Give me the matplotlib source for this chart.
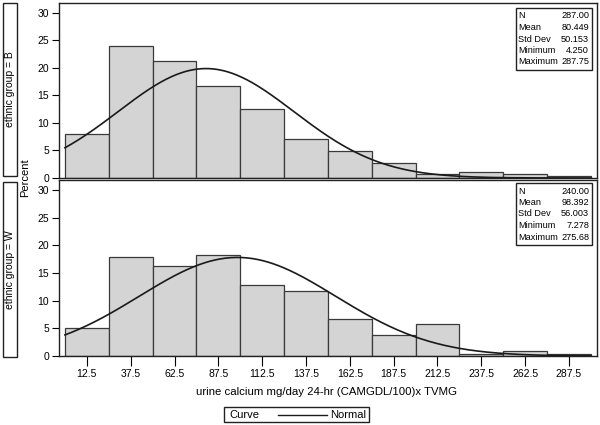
import matplotlib
matplotlib.use("Agg")
import matplotlib.pyplot as plt
import numpy as np
from matplotlib.patches import Rectangle
from matplotlib.lines import Line2D

plt.rcParams["font.family"] = ["Liberation Sans", "DejaVu Sans"]

# bin midpoints (width 25)
bin_mids = [12.5, 37.5, 62.5, 87.5, 112.5, 137.5, 162.5, 187.5, 212.5, 237.5, 262.5, 287.5]
tick_labels = ["12.5", "37.5", "62.5", "87.5", "112.5", "137.5", "162.5", "187.5",
               "212.5", "237.5", "262.5", "287.5"]

# percent per bin
pct_b = [8.0, 24.0, 21.3, 16.7, 12.5, 7.0, 4.9, 2.8, 0.7, 1.05, 0.7, 0.35]
pct_w = [5.0, 17.9, 16.3, 18.3, 12.9, 11.7, 6.7, 3.75, 5.8, 0.4, 0.85, 0.4]

groups = ["B", "W"]
stat_names = ["N", "Mean", "Std Dev", "Minimum", "Maximum"]
stats_b = ["287.00", "80.449", "50.153", "4.250", "287.75"]
stats_w = ["240.00", "98.392", "56.003", "7.278", "275.68"]

BAR_W = 25.0
BAR_FACE = "#d4d4d4"
BAR_EDGE = "#3a3a3a"
W, H = 600.0, 425.0

fig = plt.figure(figsize=(6, 4.25), dpi=100)


def fig_box(x0, y0, x1, y1):
    # pixel box (top-left origin) -> figure fraction rect
    return [x0 / W, 1 - y1 / H, (x1 - x0) / W, (y1 - y0) / H]


ax_top = fig.add_axes(fig_box(59, 3, 597, 178))
ax_bot = fig.add_axes(fig_box(59, 180, 597, 356))

# (axes, percents, stats, stats-box top in pixels)
panels = [
    (ax_top, pct_b, stats_b, 8),
    (ax_bot, pct_w, stats_w, 183),
]

xs = np.linspace(0, 300, 400)
for ax, pct, stats, box_top in panels:
    ax.bar(bin_mids, pct, width=BAR_W, color=BAR_FACE, edgecolor=BAR_EDGE, linewidth=0.9)
    mean = float(stats[1])
    sd = float(stats[2])
    curve = 100 * BAR_W / (sd * np.sqrt(2 * np.pi)) * np.exp(-0.5 * ((xs - mean) / sd) ** 2)
    ax.plot(xs, curve, color="#1a1a1a", linewidth=1.2)
    ax.set_xlim(-3.4, 303.5)
    ax.set_ylim(0, 31.8)
    ax.set_yticks([0, 5, 10, 15, 20, 25, 30])
    ax.tick_params(axis="y", direction="out", length=5, labelsize=7.5, pad=2)
    for sp in ax.spines.values():
        sp.set_linewidth(1.0)
        sp.set_color("#222222")

    # stats inset box, drawn in pixel units of the figure
    r = fig_box(516, box_top, 592, box_top + 62)
    fig.patches.append(Rectangle((r[0], r[1]), r[2], r[3], transform=fig.transFigure,
                                 facecolor="white", edgecolor="#222222", linewidth=1.0,
                                 zorder=5))
    for i, (name, val) in enumerate(zip(stat_names, stats)):
        yy = 1 - (box_top + 8 + i * 11.5) / H
        fig.text(518.5 / W, yy, name, fontsize=6.6, va="center", ha="left", zorder=6)
        fig.text(589 / W, yy, val, fontsize=6.6, va="center", ha="right", zorder=6)

ax_top.set_xticks([])
ax_bot.set_xticks(bin_mids)
ax_bot.set_xticklabels(tick_labels)
ax_bot.tick_params(axis="x", direction="out", length=7, labelsize=7.5, pad=2.5)

fig.text(327 / W, 1 - 392 / H, "urine calcium mg/day 24-hr (CAMGDL/100)x TVMG",
         fontsize=8.2, ha="center", va="center")

# group strips on the left
strips = [(3, 3, 17, 176, "ethnic group = B"), (3, 182, 17, 357, "ethnic group = W")]
for x0, y0, x1, y1, label in strips:
    r = fig_box(x0, y0, x1, y1)
    fig.patches.append(Rectangle((r[0], r[1]), r[2], r[3], transform=fig.transFigure,
                                 facecolor="white", edgecolor="#222222", linewidth=1.0))
    fig.text(r[0] + r[2] / 2, r[1] + r[3] / 2, label, rotation=90, fontsize=7.5,
             ha="center", va="center")

fig.text(25 / W, 1 - 178 / H, "Percent", rotation=90, fontsize=8, ha="center", va="center")

# legend box at bottom
r = fig_box(224, 407, 369, 422)
fig.patches.append(Rectangle((r[0], r[1]), r[2], r[3], transform=fig.transFigure,
                             facecolor="white", edgecolor="#222222", linewidth=1.0))
ymid = 1 - 414.5 / H
fig.text(229 / W, ymid, "Curve", fontsize=8, ha="left", va="center")
fig.lines.append(Line2D([278 / W, 327 / W], [ymid, ymid], transform=fig.transFigure,
                        color="#1a1a1a", linewidth=1.0))
fig.text(330 / W, ymid, "Normal", fontsize=8, ha="left", va="center")

fig.savefig("out.png", dpi=100)
